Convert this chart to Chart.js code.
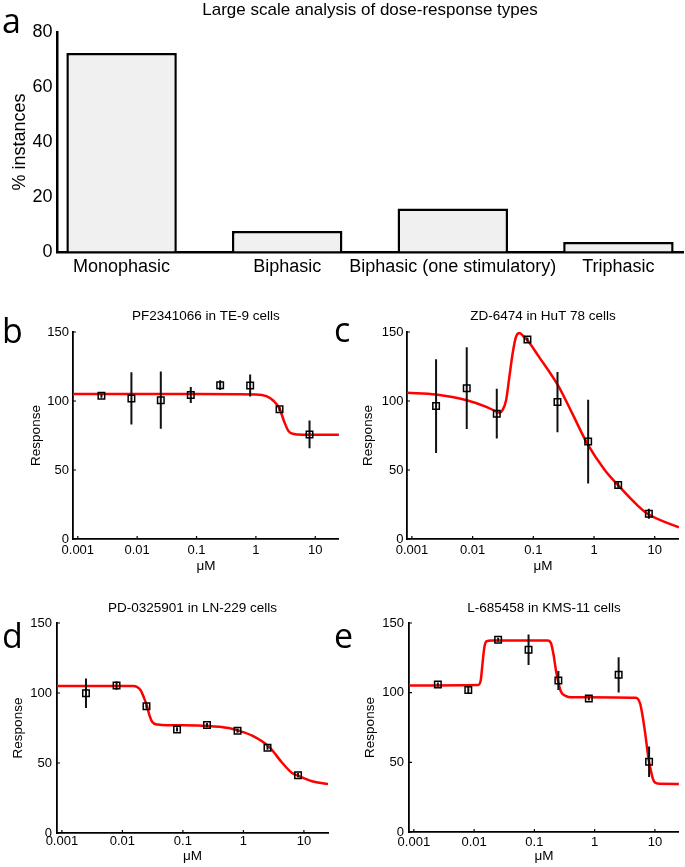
<!DOCTYPE html>
<html><head><meta charset="utf-8">
<script src="https://cdn.jsdelivr.net/npm/chart.js@4.4.0/dist/chart.umd.min.js"></script>
<style>
html,body{margin:0;padding:0;background:#fff;}
#fig{position:relative;width:685px;height:867px;overflow:hidden;background:#fff;}
canvas{position:absolute;}
.lbl{position:absolute;font-family:'Open Sans',sans-serif;font-size:34px;line-height:34px;color:#000;}
</style></head><body>
<div id="fig">
<canvas id="ca" width="685" height="285" style="left:0;top:0"></canvas>
<canvas id="cb" width="345" height="275" style="left:0;top:300px"></canvas>
<canvas id="cc" width="340" height="275" style="left:345px;top:300px"></canvas>
<canvas id="cd" width="340" height="277" style="left:0;top:590px"></canvas>
<canvas id="ce" width="340" height="277" style="left:345px;top:590px"></canvas>
<div class="lbl" style="left:2px;top:3px">a</div>
<div class="lbl" style="left:2px;top:313px">b</div>
<div class="lbl" style="left:334px;top:312px">c</div>
<div class="lbl" style="left:2px;top:618px">d</div>
<div class="lbl" style="left:334px;top:618px">e</div>
</div>
<script>
// ---- Panel a data ----
const categories = ['Monophasic', 'Biphasic', 'Biphasic (one stimulatory)', 'Triphasic'];
const pctInstances = [72.4, 7.6, 15.8, 3.6];
const pctTicks = [0, 20, 40, 60, 80];

// ---- Dose-response panels ----
const doses = [0.0025, 0.008, 0.025, 0.08, 0.25, 0.8, 2.5, 8];
const xTickVals = [0.001, 0.01, 0.1, 1, 10];
const xTickLabels = ['0.001', '0.01', '0.1', '1', '10'];
const yTickVals = [0, 50, 100, 150];

// b: PF2341066 in TE-9 cells
const respB = [103.8, 101.9, 100.6, 104.3, 111.5, 111.2, 94.1, 75.8];
const errB  = [1.5, 19, 20.7, 5.8, 3.6, 8, 1.5, 10];
const fitBx = [0.00083, 0.01, 0.1, 1, 1.5, 2, 2.5, 3, 3.5, 4, 5, 8, 25];
const fitBy = [105, 105, 105, 104.7, 103.5, 100, 94.5, 85, 78.5, 76.5, 75.7, 75.5, 75.5];

// c: ZD-6474 in HuT 78 cells
const respC = [96.3, 109.3, 90.8, 144.5, 99.2, 70.6, 39.2, 18.3];
const errC  = [34, 29.6, 18, 1.5, 21.8, 30.3, 2, 3.6];
const fitCx = [0.00083, 0.0025, 0.008, 0.0168, 0.025, 0.028, 0.031, 0.0356, 0.0403, 0.0456, 0.0518, 0.0586, 0.0708, 0.08, 0.124, 0.263, 0.4375, 0.77, 1.5, 2.4, 5.3, 7.6, 25];
const fitCy = [106, 104.7, 100.6, 95.8, 92.2, 91.5, 93.4, 100.6, 117.5, 134.4, 146.4, 149.3, 146.4, 144, 132, 110.3, 91, 69.3, 50, 39.7, 24, 18.3, 8.4];

// d: PD-0325901 in LN-229 cells
const respD = [99.8, 105.3, 90.5, 74, 77.1, 73.1, 60.9, 41.3];
const errD  = [10.5, 3, 1.5, 1.5, 1.5, 1.5, 1.5, 1.5];
const fitDx = [0.00083, 0.015, 0.02, 0.023, 0.0256, 0.028, 0.031, 0.038, 0.06, 0.26, 0.57, 0.84, 1.4, 2.66, 4.4, 6.3, 8.5, 13.6, 25];
const fitDy = [105, 105, 102, 96, 90.5, 84, 79.5, 77.5, 77, 76.5, 75, 73, 69.5, 61.5, 50, 43, 40.5, 37, 35];

// e: L-685458 in KMS-11 cells
const respE = [105.8, 102, 138, 130.8, 108.7, 95.8, 112.8, 50.4];
const errE  = [1.5, 2.5, 1.5, 11, 6.8, 1.5, 12.7, 11];
const fitEx = [0.00083, 0.0117, 0.0129, 0.0138, 0.0147, 0.016, 0.0194, 0.166, 0.188, 0.208, 0.227, 0.248, 0.275, 0.33, 0.4, 4.8, 5.7, 6.2, 6.9, 7.8, 8.3, 9.2, 10, 12, 25];
const fitEy = [105.2, 105.5, 109.2, 121.2, 132, 136.8, 137.5, 137.5, 135.6, 127.2, 116.4, 108, 100.8, 97.7, 96.7, 96.3, 92, 84, 70.8, 53, 46.8, 38.5, 35.5, 34.6, 34.5];

const X_MIN = 0.00083, X_MAX = 25;

Chart.defaults.font.family = "'Liberation Sans', Arial, sans-serif";
Chart.defaults.color = '#000';

// small inward tick marks (MATLAB style), placed through the chart's own scales
const inwardTicks = {
  id: 'inwardTicks',
  afterDatasetsDraw(chart) {
    const { ctx, chartArea, scales } = chart;
    ctx.save();
    ctx.strokeStyle = '#000';
    ctx.lineWidth = 1.2;
    ctx.beginPath();
    scales.x.ticks.forEach(t => {
      const px = scales.x.getPixelForValue(t.value);
      ctx.moveTo(px, chartArea.bottom); ctx.lineTo(px, chartArea.bottom - 3);
    });
    scales.y.ticks.forEach(t => {
      const py = scales.y.getPixelForValue(t.value);
      ctx.moveTo(chartArea.left, py); ctx.lineTo(chartArea.left + 3, py);
    });
    ctx.stroke();
    ctx.restore();
  }
};

// ---- Panel a ----
new Chart(document.getElementById('ca'), {
  type: 'bar',
  data: { datasets: [{
    data: categories.map((c, i) => ({ x: i, y: pctInstances[i] })),
    backgroundColor: '#f0f0f0', borderColor: '#000', borderWidth: 2.5,
    barPercentage: 0.667, categoryPercentage: 1
  }]},
  options: {
    responsive: false, animation: false, events: [],
    layout: { padding: { left: 0, right: 2, top: 0, bottom: 0 } },
    plugins: {
      legend: { display: false }, tooltip: { enabled: false },
      title: { display: true, text: 'Large scale analysis of dose-response types', fullSize: false,
        color: '#000', font: { size: 17, weight: 'normal' }, padding: { top: 0, bottom: 11.6 } }
    },
    scales: {
      x: { type: 'linear', min: -0.39, max: 3.39, offset: false,
        afterBuildTicks: s => { s.ticks = categories.map((c, i) => ({ value: i })); },
        afterFit: s => { s.height = 33; },
        ticks: { callback: (v) => categories[Math.round(v)], autoSkip: false, maxRotation: 0, padding: 3.9, font: { size: 18 } },
        grid: { display: true, drawOnChartArea: false, drawTicks: false, offset: false },
        border: { display: true, color: '#000', width: 2.5 } },
      y: { type: 'linear', min: 0, max: 80,
        afterBuildTicks: s => { s.ticks = pctTicks.map(v => ({ value: v })); },
        afterFit: s => { s.width = 57; },
        ticks: { callback: (v, i) => String(pctTicks[i]), padding: 4.5, font: { size: 18 } },
        grid: { display: true, drawOnChartArea: false, drawTicks: false },
        border: { display: true, color: '#000', width: 2.5 },
        title: { display: true, text: '% instances', font: { size: 18 }, padding: { top: 8.9, bottom: 0 } } }
    }
  }
});

// ---- Dose-response panels ----
function dosePanel(id, titleText, resp, err, fitX, fitY, g) {
  const pts = doses.map((x, i) => ({ x: x, y: resp[i] }));
  const bars = [];
  doses.forEach((x, i) => { bars.push({ x: x, y: resp[i] - err[i] }, { x: x, y: resp[i] + err[i] }, { x: x, y: null }); });
  const fit = fitX.map((x, i) => ({ x: x, y: fitY[i] }));
  new Chart(document.getElementById(id), {
    type: 'line',
    data: { datasets: [
      { data: pts, showLine: false, pointStyle: 'rect', pointRadius: 4.6, pointBorderWidth: 1.5,
        pointBorderColor: '#000', pointBackgroundColor: 'rgba(0,0,0,0)' },
      { data: bars, borderColor: '#111', borderWidth: 2, pointRadius: 0, spanGaps: false, tension: 0 },
      { data: fit, borderColor: '#ff0000', borderWidth: 2.5, pointRadius: 0, cubicInterpolationMode: 'monotone' }
    ]},
    options: {
      responsive: false, animation: false, events: [],
      layout: { padding: { left: 0, right: g.padR, top: 0, bottom: 0 } },
      plugins: {
        legend: { display: false }, tooltip: { enabled: false },
        title: { display: true, text: titleText, fullSize: false, color: '#000',
          font: { size: 13.5, weight: 'normal' }, padding: { top: g.tTop, bottom: g.tBot } }
      },
      scales: {
        x: { type: 'logarithmic', min: X_MIN, max: X_MAX,
          afterBuildTicks: s => { s.ticks = xTickVals.map(v => ({ value: v })); },
          afterFit: s => { s.height = g.xH; },
          ticks: { callback: (v, i) => xTickLabels[i], autoSkip: false, maxRotation: 0, padding: g.xTp, font: { size: 13 } },
          grid: { display: true, drawOnChartArea: false, drawTicks: false },
          border: { display: true, color: '#000', width: 1.8 },
          title: { display: true, text: 'μM', font: { size: 13.5 }, padding: { top: 0, bottom: g.xTb } } },
        y: { type: 'linear', min: 0, max: 150,
          afterBuildTicks: s => { s.ticks = yTickVals.map(v => ({ value: v })); },
          afterFit: s => { s.width = g.yW; },
          ticks: { callback: (v, i) => String(yTickVals[i]), padding: g.yTp, font: { size: 13 } },
          grid: { display: true, drawOnChartArea: false, drawTicks: false },
          border: { display: true, color: '#000', width: 1.8 },
          title: { display: true, text: 'Response', font: { size: 13.5 }, padding: { top: g.yTt, bottom: 0 } } }
      }
    },
    plugins: [inwardTicks]
  });
}

dosePanel('cb', 'PF2341066 in TE-9 cells', respB, errB, fitBx, fitBy,
  { padR: 1, tTop: 8.6, tBot: 7.2, xH: 36, xTp: 3.5, xTb: 0.5, yW: 73, yTp: 4, yTt: 27.9 });
dosePanel('cc', 'ZD-6474 in HuT 78 cells', respC, errC, fitCx, fitCy,
  { padR: 5, tTop: 8.6, tBot: 7.2, xH: 36, xTp: 3.5, xTb: 0.5, yW: 62, yTp: 3.5, yTt: 15.2 });
dosePanel('cd', 'PD-0325901 in LN-229 cells', respD, errD, fitDx, fitDy,
  { padR: 12, tTop: 10.2, tBot: 6.6, xH: 34, xTp: 1, xTb: 2.2, yW: 57, yTp: 5, yTt: 10.2 });
dosePanel('ce', 'L-685458 in KMS-11 cells', respE, errE, fitEx, fitEy,
  { padR: 2, tTop: 10.2, tBot: 6.6, xH: 35, xTp: 2.5, xTb: 2.2, yW: 64, yTp: 5, yTt: 16.9 });
</script>
</body></html>
